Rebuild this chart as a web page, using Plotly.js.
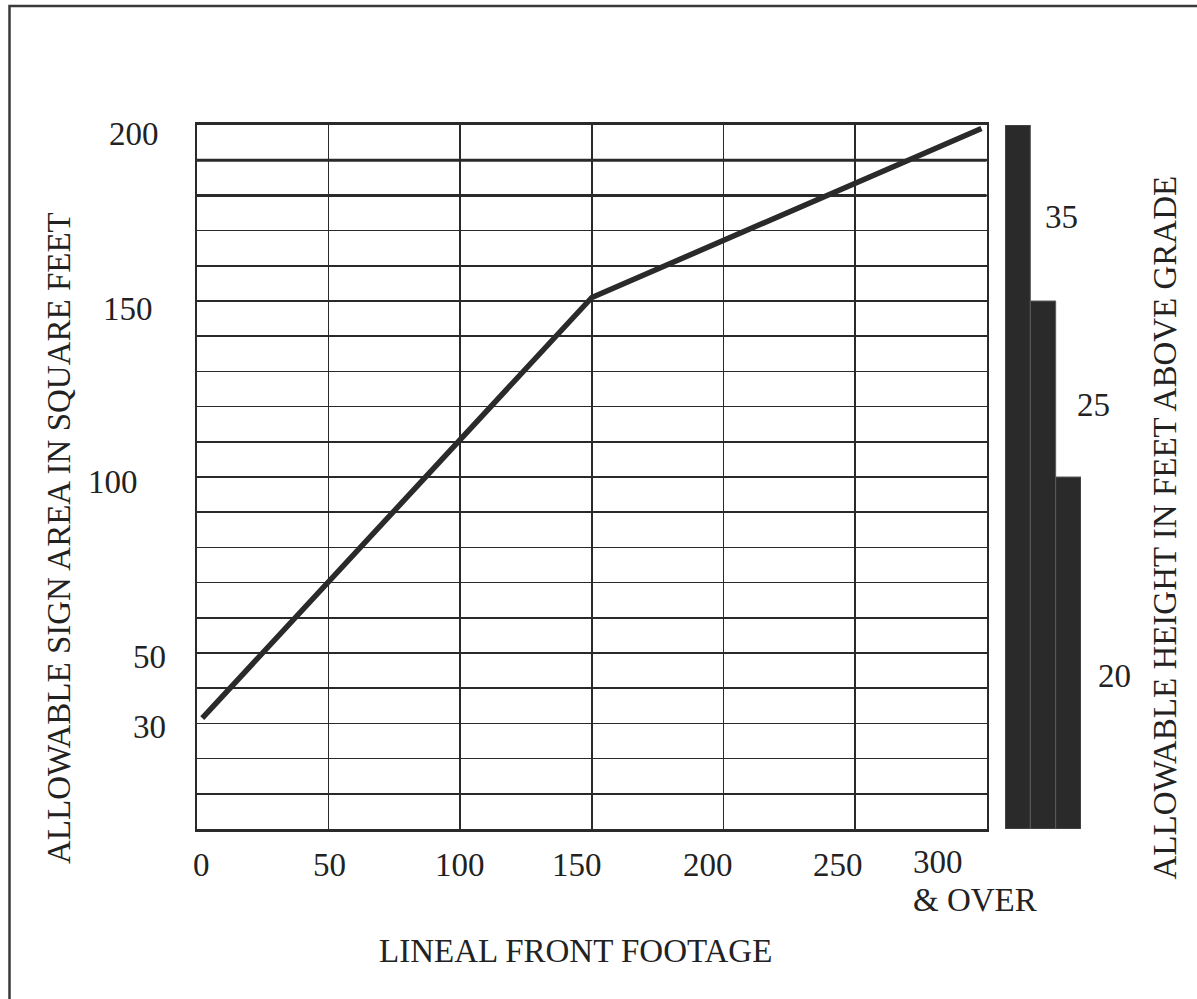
<!DOCTYPE html>
<html>
<head>
<meta charset="utf-8">
<script src="https://cdn.plot.ly/plotly-3.0.1.min.js"></script>
<style>html,body{margin:0;padding:0;background:#fff;}#chart{width:1197px;height:999px;}</style>
</head>
<body>
<div id="chart"></div>
<script>
// ---- data ----
const frontageFeet = [2, 150, 298];
const signAreaSqFt = [31.5, 151, 199];
const heightCategories = ['35', '25', '20'];
const heightZoneTopArea = [200, 150, 100];
const xTickValues = [0, 50, 100, 150, 200, 250, 300];
const xTickLabels = ['0', '50', '100', '150', '200', '250', '300'];
const xOverLabel = '& OVER';
const yTickValues = [200, 150, 100, 50, 30];
const yTickLabels = ['200', '150', '100', '50', '30'];
const emphasisGridValues = [180, 190];
const xTitle = 'LINEAL FRONT FOOTAGE';
const yTitle = 'ALLOWABLE SIGN AREA IN SQUARE FEET';
const y2Title = 'ALLOWABLE HEIGHT IN FEET ABOVE GRADE';

// ---- layout helpers ----
const W = 1197, H = 999;
const M = {l: 197, r: 97, t: 125, b: 170};
const PW = W - M.l - M.r, PH = H - M.t - M.b;
const px = x => (x - M.l) / PW;
const py = y => (H - M.b - y) / PH;
const ink = '#2b2a2b';
const FONT = {family: '"Liberation Serif", "Times New Roman", serif', size: 33, color: '#222'};

// label placements (pixels / shifts)
const xTickShift = [4, 0.5, -0.5, -15, -15.5, -17];
const xTickCenterY = 865;
const x300Left = 912;
const x300Split = 881;
const yTickXShift = [-37, -43, -58, -30, -30];
const yTickYShift = [-8.8, -7.8, -5, -3.5, -3.1];
const heightLabelPos = [[1061.5, 217], [1093, 405], [1114.5, 676]];

const annotations = [];
xTickValues.forEach((v, i) => {
  if (i < 6) {
    annotations.push({xref: 'x', yref: 'paper', x: v, y: py(xTickCenterY), xshift: xTickShift[i],
      text: xTickLabels[i], showarrow: false, xanchor: 'center', yanchor: 'middle', font: FONT, borderpad: 0});
  } else {
    annotations.push({xref: 'paper', yref: 'paper', x: px(x300Left), y: py(x300Split),
      text: xTickLabels[i], showarrow: false, xanchor: 'left', yanchor: 'bottom', font: FONT, borderpad: 0});
    annotations.push({xref: 'paper', yref: 'paper', x: px(x300Left), y: py(x300Split),
      text: xOverLabel, showarrow: false, xanchor: 'left', yanchor: 'top', font: FONT, borderpad: 0});
  }
});
yTickValues.forEach((v, i) => {
  annotations.push({xref: 'x', yref: 'y', x: 0, y: v, xshift: yTickXShift[i], yshift: yTickYShift[i],
    text: yTickLabels[i], showarrow: false, xanchor: 'right', yanchor: 'middle', font: FONT, borderpad: 0});
});
heightCategories.forEach((t, i) => {
  annotations.push({xref: 'paper', yref: 'paper', x: px(heightLabelPos[i][0]), y: py(heightLabelPos[i][1]),
    text: t, showarrow: false, xanchor: 'center', yanchor: 'middle', font: FONT, borderpad: 0});
});
annotations.push({xref: 'paper', yref: 'paper', x: px(575.5), y: py(951), text: xTitle, showarrow: false,
  xanchor: 'center', yanchor: 'middle', font: FONT, borderpad: 0});
annotations.push({xref: 'paper', yref: 'paper', x: px(58.5), y: py(538.5), text: yTitle, showarrow: false,
  textangle: -90, xanchor: 'center', yanchor: 'middle', font: FONT, borderpad: 0});
annotations.push({xref: 'paper', yref: 'paper', x: px(1164.5), y: py(528), text: y2Title, showarrow: false,
  textangle: -90, xanchor: 'center', yanchor: 'middle', font: FONT, borderpad: 0});

const shapes = emphasisGridValues.map(v => ({type: 'line', xref: 'x', yref: 'y', x0: 0, x1: 300, y0: v, y1: v,
  line: {color: ink, width: 3}, layer: 'below'}));
shapes.push({type: 'rect', xref: 'paper', yref: 'paper', x0: px(9.5), x1: px(1215), y0: py(6), y1: py(1015),
  line: {color: '#3a3a3a', width: 2.5}, fillcolor: 'rgba(0,0,0,0)'});

const traces = [
  {type: 'scatter', mode: 'lines', x: frontageFeet, y: signAreaSqFt, xaxis: 'x', yaxis: 'y',
   line: {color: ink, width: 5.5}, hoverinfo: 'skip'},
  {type: 'bar', x: heightCategories, y: heightZoneTopArea, xaxis: 'x2', yaxis: 'y2',
   marker: {color: ink, line: {color: '#5a5a5a', width: 1}}, hoverinfo: 'skip'}
];

const layout = {
  width: W, height: H, margin: M, showlegend: false,
  paper_bgcolor: '#fff', plot_bgcolor: 'rgba(0,0,0,0)',
  font: FONT, bargap: 0,
  xaxis: {domain: [0, px(986.7)], range: [0, 300], dtick: 50, tick0: 0, showgrid: true,
    gridcolor: ink, gridwidth: 1.5, showticklabels: false, ticks: '', zeroline: false,
    showline: true, mirror: true, linecolor: ink, linewidth: 3, fixedrange: true},
  yaxis: {domain: [0, 1], range: [0, 200], dtick: 10, tick0: 0, showgrid: true,
    gridcolor: ink, gridwidth: 1.5, showticklabels: false, ticks: '', zeroline: false,
    showline: true, mirror: true, linecolor: ink, linewidth: 2.5, fixedrange: true, anchor: 'x'},
  xaxis2: {domain: [px(1005), px(1081)], range: [-0.5, 2.5], type: 'category', showgrid: false,
    showticklabels: false, ticks: '', zeroline: false, showline: false, anchor: 'y2', fixedrange: true},
  yaxis2: {domain: [0, 1], range: [0, 200], showgrid: false, showticklabels: false, ticks: '',
    zeroline: false, showline: false, anchor: 'x2', fixedrange: true},
  annotations: annotations,
  shapes: shapes
};

Plotly.newPlot('chart', traces, layout, {displayModeBar: false, staticPlot: true});
</script>
</body>
</html>
